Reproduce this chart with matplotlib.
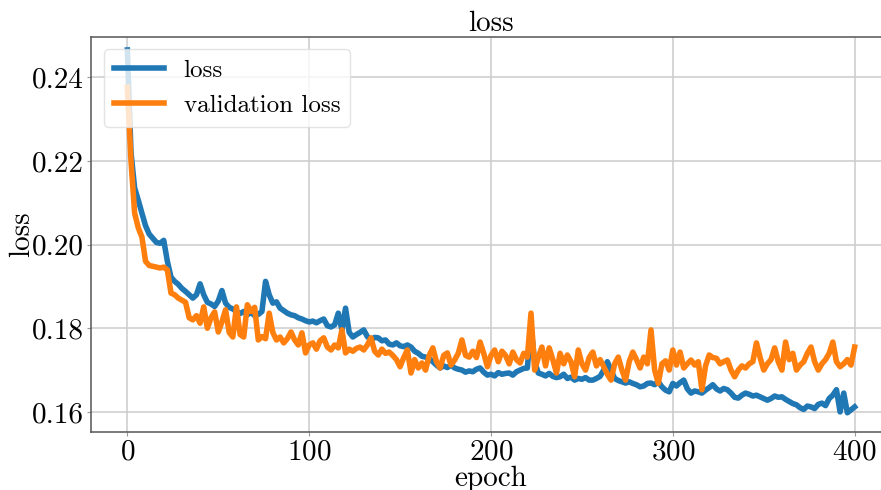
import matplotlib
matplotlib.use("Agg")
import matplotlib.pyplot as plt

plt.rcParams["font.family"] = ["cmr10", "DejaVu Serif"]
plt.rcParams["axes.formatter.use_mathtext"] = True
plt.rcParams["mathtext.fontset"] = "cm"

epochs = list(range(0, 401, 2))

loss = [
    0.2465, 0.2220, 0.2135, 0.2106, 0.2075, 0.2045, 0.2025, 0.2015, 0.2005, 0.2003,
    0.2010, 0.1960, 0.1922, 0.1912, 0.1905, 0.1895, 0.1888, 0.1880, 0.1872, 0.1880,
    0.1906, 0.1880, 0.1862, 0.1858, 0.1852, 0.1865, 0.1890, 0.1860, 0.1850, 0.1846,
    0.1840, 0.1835, 0.1840, 0.1832, 0.1838, 0.1830, 0.1833, 0.1840, 0.1912, 0.1880,
    0.1860, 0.1863, 0.1848, 0.1842, 0.1836, 0.1832, 0.1830, 0.1825, 0.1822, 0.1818,
    0.1815, 0.1817, 0.1813, 0.1818, 0.1822, 0.1806, 0.1803, 0.1808, 0.1836, 0.1796,
    0.1848, 0.1790, 0.1779, 0.1785, 0.1790, 0.1796, 0.1780, 0.1772, 0.1778, 0.1777,
    0.1770, 0.1772, 0.1762, 0.1760, 0.1765, 0.1758, 0.1756, 0.1760, 0.1755, 0.1745,
    0.1740, 0.1733, 0.1731, 0.1728, 0.1720, 0.1712, 0.1705, 0.1710, 0.1706, 0.1712,
    0.1705, 0.1702, 0.1700, 0.1695, 0.1698, 0.1696, 0.1702, 0.1705, 0.1695, 0.1688,
    0.1690, 0.1686, 0.1694, 0.1690, 0.1692, 0.1693, 0.1688, 0.1696, 0.1700, 0.1704,
    0.1705, 0.1805, 0.1720, 0.1693, 0.1690, 0.1686, 0.1692, 0.1685, 0.1682, 0.1684,
    0.1690, 0.1680, 0.1683, 0.1676, 0.1680, 0.1678, 0.1682, 0.1676, 0.1676, 0.1680,
    0.1685, 0.1700, 0.1720, 0.1700, 0.1680, 0.1675, 0.1672, 0.1669, 0.1672, 0.1668,
    0.1665, 0.1660, 0.1662, 0.1668, 0.1669, 0.1665, 0.1672, 0.1660, 0.1652, 0.1648,
    0.1668, 0.1662, 0.1670, 0.1676, 0.1655, 0.1645, 0.1650, 0.1648, 0.1645, 0.1652,
    0.1658, 0.1665, 0.1655, 0.1650, 0.1656, 0.1653, 0.1645, 0.1635, 0.1633, 0.1640,
    0.1645, 0.1642, 0.1638, 0.1640, 0.1636, 0.1632, 0.1628, 0.1632, 0.1638, 0.1635,
    0.1636, 0.1630, 0.1625, 0.1620, 0.1617, 0.1610, 0.1606, 0.1614, 0.1612, 0.1608,
    0.1618, 0.1621, 0.1615, 0.1632, 0.1640, 0.1653, 0.1600, 0.1645, 0.1598, 0.1605,
    0.1612,
]

val_loss = [
    0.2376, 0.2200, 0.2075, 0.2040, 0.2018, 0.1960, 0.1950, 0.1948, 0.1946, 0.1944,
    0.1946, 0.1939, 0.1884, 0.1880, 0.1872, 0.1867, 0.1862, 0.1825, 0.1820, 0.1830,
    0.1812, 0.1851, 0.1800, 0.1825, 0.1839, 0.1791, 0.1815, 0.1844, 0.1790, 0.1779,
    0.1851, 0.1785, 0.1779, 0.1856, 0.1840, 0.1850, 0.1772, 0.1780, 0.1775, 0.1836,
    0.1790, 0.1772, 0.1779, 0.1765, 0.1775, 0.1791, 0.1772, 0.1760, 0.1789, 0.1741,
    0.1760, 0.1765, 0.1750, 0.1770, 0.1777, 0.1755, 0.1748, 0.1760, 0.1753, 0.1796,
    0.1741, 0.1750, 0.1745, 0.1752, 0.1755, 0.1748, 0.1760, 0.1777, 0.1745, 0.1736,
    0.1750, 0.1740, 0.1743, 0.1735, 0.1725, 0.1708, 0.1730, 0.1748, 0.1693, 0.1725,
    0.1705, 0.1717, 0.1700, 0.1735, 0.1753, 0.1720, 0.1705, 0.1735, 0.1741, 0.1712,
    0.1724, 0.1740, 0.1772, 0.1735, 0.1731, 0.1745, 0.1730, 0.1767, 0.1740, 0.1708,
    0.1735, 0.1748, 0.1720, 0.1745, 0.1735, 0.1715, 0.1743, 0.1725, 0.1717, 0.1740,
    0.1731, 0.1836, 0.1700, 0.1730, 0.1755, 0.1710, 0.1753, 0.1725, 0.1693, 0.1740,
    0.1715, 0.1736, 0.1720, 0.1684, 0.1748, 0.1715, 0.1700, 0.1730, 0.1743, 0.1710,
    0.1725, 0.1708, 0.1690, 0.1676, 0.1715, 0.1731, 0.1700, 0.1676, 0.1720, 0.1743,
    0.1725, 0.1705, 0.1731, 0.1715, 0.1796, 0.1700, 0.1668, 0.1715, 0.1722, 0.1700,
    0.1748, 0.1712, 0.1743, 0.1705, 0.1715, 0.1724, 0.1712, 0.1720, 0.1653, 0.1710,
    0.1736, 0.1730, 0.1728, 0.1715, 0.1720, 0.1724, 0.1700, 0.1684, 0.1700, 0.1710,
    0.1705, 0.1715, 0.1720, 0.1765, 0.1730, 0.1700, 0.1715, 0.1725, 0.1753, 0.1720,
    0.1700, 0.1767, 0.1725, 0.1740, 0.1700, 0.1712, 0.1720, 0.1740, 0.1755, 0.1720,
    0.1700, 0.1715, 0.1725, 0.1740, 0.1767, 0.1720, 0.1708, 0.1715, 0.1725, 0.1712,
    0.1755,
]

x_ticks = [0, 100, 200, 300, 400]
y_ticks = [0.16, 0.18, 0.20, 0.22, 0.24]

fig = plt.figure(figsize=(8.81, 4.90), dpi=100)
ax = fig.add_axes([91 / 881, 58 / 490, 800 / 881, 395 / 490])

ax.plot(epochs, loss, color="#1f77b4", lw=4.0, label="loss", zorder=3)
ax.plot(epochs, val_loss, color="#ff7f0e", lw=4.0, label="validation loss", zorder=3)

ax.set_xlim(-20, 420)
ax.set_ylim(0.1552, 0.2496)
ax.set_xticks(x_ticks)
ax.set_yticks(y_ticks)
ax.set_yticklabels([f"{v:.2f}" for v in y_ticks])

ax.grid(True, color="#cccccc", lw=1.1, zorder=0)
ax.set_axisbelow(True)
for s in ax.spines.values():
    s.set_color("#555555")
    s.set_linewidth(1.1)
ax.tick_params(axis="both", labelsize=21, length=3, width=0.8, color="#999999", pad=2)

ax.set_title("loss", fontsize=21, pad=2)
ax.set_xlabel("epoch", fontsize=21, labelpad=0)
ax.set_ylabel("loss", fontsize=21, labelpad=-2)

leg = ax.legend(loc="upper left", fontsize=18, framealpha=0.8, fancybox=True,
                edgecolor="#dddddd")

fig.savefig("out.png", dpi=100)
